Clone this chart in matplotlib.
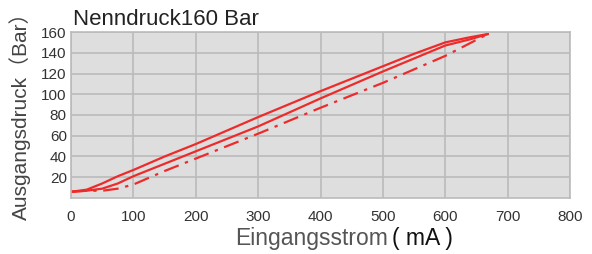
import matplotlib
matplotlib.use("Agg")
import matplotlib.pyplot as plt

x_upper = [0, 25, 50, 75, 100, 150, 200, 300, 400, 500, 550, 600, 640, 668]
y_upper = [6, 8, 14, 21, 27, 40, 52, 78, 103, 127, 139, 150, 155, 158]
x_mid = [0, 25, 50, 75, 100, 150, 200, 300, 400, 500, 600, 640, 668]
y_mid = [6, 7, 9, 14, 21, 33, 45, 69, 96, 122, 147, 153, 158]
x_dash = [0, 25, 50, 75, 100, 150, 200, 300, 400, 500, 600, 668]
y_dash = [6, 7, 7, 9, 13, 26, 38, 62, 87, 111, 137, 158]

x_ticks = [0, 100, 200, 300, 400, 500, 600, 700, 800]
y_ticks = [20, 40, 60, 80, 100, 120, 140, 160]

title = "Nenndruck160 Bar"
xlabel_main = "Eingangsstrom"
xlabel_unit = "( mA )"
ylabel = "Ausgangsdruck（Bar）"

plt.rcParams['font.family'] = ['Liberation Sans', 'Noto Sans CJK SC']

fig = plt.figure(figsize=(5.92, 2.54), dpi=100)
ax = fig.add_axes([0.12, 0.2205, 0.843, 0.6535])
ax.set_facecolor('#dedede')
red = '#ee2b2b'
ax.plot(x_upper, y_upper, color=red, lw=1.6)
ax.plot(x_mid, y_mid, color=red, lw=1.6)
ax.plot(x_dash, y_dash, color=red, lw=1.6, dashes=(7, 3, 1.5, 3))
ax.set_xlim(0, 800)
ax.set_ylim(0, 160)
ax.set_xticks(x_ticks)
ax.set_yticks(y_ticks)
ax.grid(True, color='#bbbbbb', lw=1.2)
ax.set_axisbelow(True)
for s in ax.spines.values():
    s.set_color('#bbbbbb')
    s.set_linewidth(1.2)
ax.tick_params(length=0, labelsize=11, labelcolor='#333333', pad=9)
ax.tick_params(axis='y', pad=3)
ax.set_ylabel(ylabel, fontsize=15, color='#444444', labelpad=3)
ax.yaxis.set_label_coords(-0.08, 0.525)
fig.text(0.655, 0.035, xlabel_main, fontsize=16.5, color='#555555',
         ha='right', va='baseline')
fig.text(0.662, 0.035, xlabel_unit, fontsize=16.5, color='#111111',
         ha='left', va='baseline')
fig.text(0.123, 0.9, title, fontsize=16, color='#222222', ha='left', va='baseline')
fig.savefig('out.png', dpi=100)
